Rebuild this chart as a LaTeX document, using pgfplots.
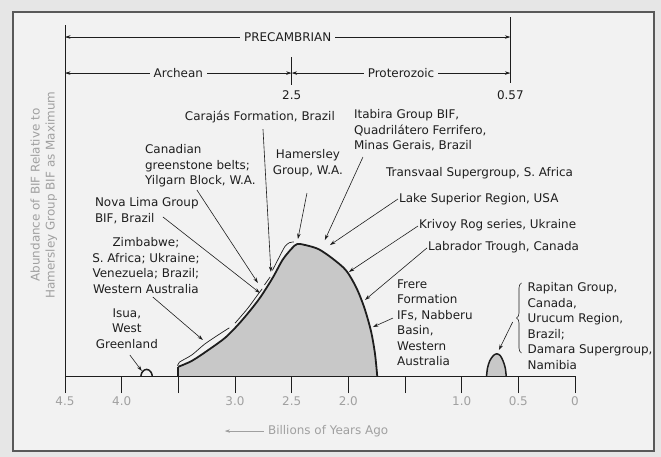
\documentclass[border=0pt]{standalone}
\usepackage{fontspec}
\setmainfont{DejaVu Sans}
\usepackage{pgfplots}
\pgfplotsset{compat=1.18}
\usetikzlibrary{arrows.meta,decorations.pathreplacing}
\definecolor{paper}{RGB}{230,230,230}
\definecolor{inner}{RGB}{242,242,242}
\definecolor{fillg}{RGB}{200,200,200}
\definecolor{tickg}{RGB}{160,160,160}
\definecolor{ink}{RGB}{30,30,30}
\newcommand{\tfont}{\fontsize{12}{15.5}\selectfont}
\tikzset{
  lbl/.style={font=\tfont, text=ink, inner sep=0pt},
  arr/.style={-{Stealth[length=5.5bp,width=3.5bp]}, line width=0.6bp, draw=ink},
}
\begin{document}
\begin{tikzpicture}
\fill[paper] (0,0) rectangle (661bp,457bp);
\filldraw[fill=inner, draw=black!65, line width=1.6bp] (13bp,6bp) rectangle (654bp,445bp);
\useasboundingbox (0,0) rectangle (661bp,457bp);
\begin{axis}[
  at={(65bp,81bp)}, anchor=south west,
  scale only axis, width=510bp, height=359.04bp,
  xmin=0, xmax=4.5, ymin=0, ymax=2.72, x dir=reverse,
  axis x line=bottom, axis y line=none,
  axis line style={-, line width=0.6bp, ink},
  xtick={0,0.5,1,1.5,2,2.5,3,3.5,4,4.5},
  xticklabels={0,0.5,1.0,,2.0,2.5,3.0,,4.0,4.5},
  tick align=outside, major tick length=17bp,
  tick style={line width=0.6bp, ink},
  xticklabel style={font=\fontsize{12}{14}\selectfont, text=tickg},
  ytick=\empty,
  clip=false, axis on top,
]
% main BIF curve: fill
\addplot[fill=fillg, draw=none, smooth] coordinates {
(3.50,0.07) (3.38,0.115) (3.23,0.20) (3.08,0.295) (2.94,0.42) (2.79,0.58) (2.67,0.74) (2.58,0.88) (2.50,0.965) (2.45,1.00) (2.37,0.99) (2.26,0.96) (2.14,0.89) (2.02,0.80) (1.93,0.67) (1.86,0.52) (1.80,0.34) (1.765,0.17) (1.745,0.0)
} \closedcycle;
% outline
\addplot[ink, line width=1.8bp] coordinates {(3.50,0) (3.50,0.07)};
\addplot[ink, line width=1.8bp, smooth] coordinates {
(3.50,0.07) (3.38,0.115) (3.23,0.20) (3.08,0.295) (2.94,0.42) (2.79,0.58) (2.67,0.74) (2.58,0.88) (2.50,0.965) (2.45,1.00) (2.37,0.99) (2.26,0.96) (2.14,0.89) (2.02,0.80) (1.93,0.67) (1.86,0.52) (1.80,0.34) (1.765,0.17) (1.745,0.0)
};
% Isua bump
\addplot[ink, line width=1.5bp, smooth] coordinates {
(3.83,0) (3.822,0.025) (3.80,0.045) (3.78,0.05) (3.76,0.045) (3.738,0.025) (3.73,0)
};
% late Proterozoic bump
\addplot[fill=fillg, draw=ink, line width=1.5bp, smooth] coordinates {
(0.78,0) (0.772,0.06) (0.752,0.115) (0.72,0.155) (0.69,0.168) (0.66,0.155) (0.635,0.115) (0.615,0.06) (0.607,0)
};
% brackets along the rising limb
\addplot[ink, line width=0.7bp, smooth] coordinates {(3.505,0.075) (3.49,0.105) (3.38,0.16) (3.27,0.24) (3.15,0.31) (3.05,0.365)};
\addplot[ink, line width=0.7bp, smooth] coordinates {(3.00,0.40) (2.89,0.51) (2.80,0.615) (2.76,0.66)};
\addplot[ink, line width=0.7bp, smooth] coordinates {(2.74,0.69) (2.69,0.75)};
\addplot[ink, line width=0.7bp, smooth] coordinates {(2.67,0.80) (2.61,0.90) (2.56,0.98) (2.52,1.01) (2.48,1.015)};

% left axis line and time scale
\draw[ink, line width=0.6bp] (4.5,0) -- (4.5,2.66);
\draw[ink, line width=0.6bp] (2.5,2.205) -- (2.5,2.417);
\draw[ink, line width=0.6bp] (0.57,2.22) -- (0.57,2.72);
\node[lbl, inner sep=4bp] (pc) at (2.535,2.568) {PRECAMBRIAN};
\draw[arr] (pc.west) -- (4.5,2.568);
\draw[arr] (pc.east) -- (0.57,2.568);
\node[lbl, inner sep=4bp] (ar) at (3.5,2.295) {Archean};
\draw[arr] (ar.west) -- (4.5,2.295);
\draw[arr] (ar.east) -- (2.5,2.295);
\node[lbl, inner sep=4bp] (pr) at (1.535,2.295) {Proterozoic};
\draw[arr] (pr.west) -- (2.5,2.295);
\draw[arr] (pr.east) -- (0.57,2.295);
\node[lbl] at (2.5,2.129) {2.5};
\node[lbl] at (0.57,2.129) {0.57};

% y label
\node[font=\fontsize{12}{15}\selectfont, text=tickg, rotate=90, align=center] at (4.687,1.371)
  {Abundance of BIF Relative to\\Hamersley Group BIF as Maximum};
% x label
\node[font=\fontsize{12}{14}\selectfont, text=tickg, anchor=west, inner sep=0pt] at (2.71,-0.417) {Billions of Years Ago};
\draw[-{Stealth[length=5bp,width=3.5bp]}, line width=0.6bp, draw=tickg] (2.745,-0.417) -- (3.089,-0.417);

% labels
\node[lbl] at (2.78,1.962) {Carajás Formation, Brazil};
\draw[arr] (2.753,1.87) -- (2.683,0.788);
\node[lbl, anchor=north west, align=left] at (3.795,1.754) {Canadian\\greenstone belts;\\Yilgarn Block, W.A.};
\draw[arr] (3.336,1.409) -- (2.798,0.705);
\node[lbl, anchor=north west, align=left] at (4.237,1.352) {Nova Lima Group\\BIF, Brazil};
\draw[arr] (3.636,1.205) -- (2.780,0.629);
\node[lbl, anchor=north, align=center] at (3.786,1.049) {Zimbabwe;\\S. Africa; Ukraine;\\Venezuela; Brazil;\\Western Australia};
\draw[arr] (3.725,0.598) -- (3.283,0.273);
\node[lbl, anchor=north, align=center] at (3.954,0.511) {Isua,\\West\\Greenland};
\draw[arr] (3.928,0.159) -- (3.822,0.038);
\node[lbl, anchor=north, align=center] at (2.357,1.716) {Hamersley\\Group, W.A.};
\draw[arr] (2.365,1.386) -- (2.445,1.038);
\node[lbl, anchor=north west, align=left] at (1.951,2.019) {Itabira Group BIF,\\Quadrilátero Ferrifero,\\Minas Gerais, Brazil};
\draw[arr] (1.871,1.659) -- (2.207,1.030);
\node[lbl, anchor=west] at (1.668,1.538) {Transvaal Supergroup, S. Africa};
\node[lbl, anchor=west] at (1.553,1.341) {Lake Superior Region, USA};
\draw[arr] (1.562,1.341) -- (2.162,0.992);
\node[lbl, anchor=west] at (1.377,1.144) {Krivoy Rog series, Ukraine};
\draw[arr] (1.386,1.136) -- (1.995,0.788);
\node[lbl, anchor=west] at (1.297,0.977) {Labrador Trough, Canada};
\draw[arr] (1.306,0.970) -- (1.853,0.576);
\node[lbl, anchor=north west, align=left] at (1.571,0.731) {Frere\\Formation\\IFs, Nabberu\\Basin,\\Western\\Australia};
\draw[arr] (1.606,0.439) -- (1.783,0.371);
\node[lbl, anchor=north west, align=left] at (0.42,0.708) {Rapitan Group,\\Canada,\\Urucum Region,\\Brazil;\\Damara Supergroup,\\Namibia};
\draw[ink, line width=0.6bp, decorate, decoration={brace, amplitude=5bp}] (0.472,0.174) -- (0.472,0.705);
\draw[arr] (0.55,0.409) -- (0.671,0.197);
\end{axis}
\end{tikzpicture}
\end{document}
